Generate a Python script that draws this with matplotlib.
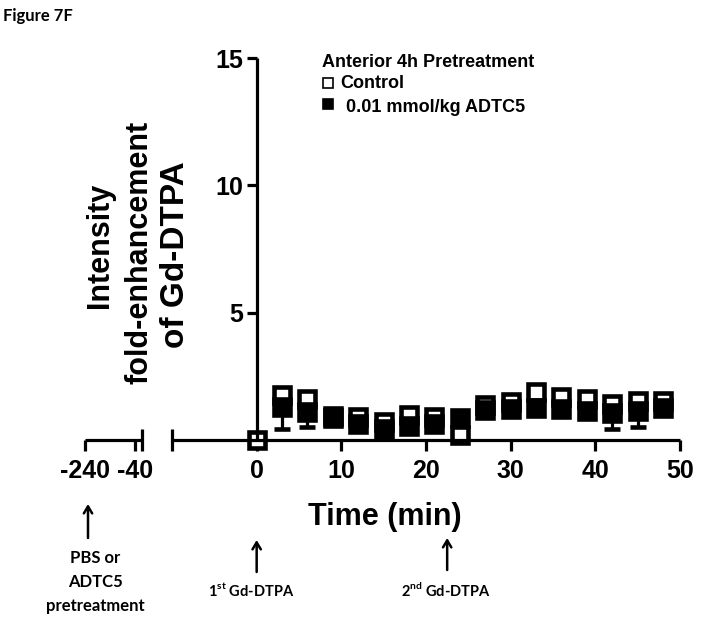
import matplotlib
matplotlib.use("Agg")
import matplotlib.pyplot as plt
import numpy as np
from matplotlib.lines import Line2D
from matplotlib.transforms import blended_transform_factory

# ---------------- data ----------------
time_min = [0, 3, 6, 9, 12, 15, 18, 21, 24, 27, 30, 33, 36, 39, 42, 45, 48]
control_mean = [0.0, 1.76, 1.60, 0.95, 0.90, 0.70, 1.00, 0.90, 0.20, 1.37,
                1.50, 1.88, 1.68, 1.62, 1.42, 1.52, 1.52]
control_sem = [0.0, 0.12, 0.10, 0.10, 0.10, 0.10, 0.10, 0.10, 0.10, 0.10,
               0.10, 0.12, 0.10, 0.10, 0.10, 0.10, 0.10]
adtc5_mean = [np.nan, 1.30, 1.10, 0.85, 0.62, 0.42, 0.55, 0.62, 0.86, 1.18,
              1.22, 1.25, 1.22, 1.15, 1.05, 1.15, 1.24]
adtc5_sem = [np.nan, 0.86, 0.60, 0.20, 0.20, 0.20, 0.20, 0.20, 0.20, 0.20,
             0.20, 0.20, 0.20, 0.20, 0.60, 0.63, 0.20]

pre_ticks = [-240, -40]
pre_labels = ["-240", "-40"]
main_xticks = [0, 10, 20, 30, 40, 50]
main_yticks = [5, 10, 15]

legend_title = "Anterior 4h Pretreatment"
series_labels = ["Control", "0.01 mmol/kg ADTC5"]
ylabel_lines = ["Intensity", "fold-enhancement", "of Gd-DTPA"]
second_dose_time = 22.5

# ---------------- figure ----------------
W, H = 702, 625
fig = plt.figure(figsize=(W / 100, H / 100), dpi=100)

ARIAL = "Liberation Sans"
CAL = "Lato"
LW = 2.3

def frac_x(px):
    return px / W

def frac_y(py):
    return 1 - py / H

ax_left, ax_right, ax_top, ax_bot = 172, 680, 58, 440
ax = fig.add_axes([frac_x(ax_left), frac_y(ax_bot),
                   frac_x(ax_right - ax_left), (ax_bot - ax_top) / H])
ax.set_xlim(-10, 50)
ax.set_ylim(0, 15)

for s in ["top", "right"]:
    ax.spines[s].set_visible(False)
ax.spines["left"].set_position(("data", 0))
for s in ["left", "bottom"]:
    ax.spines[s].set_linewidth(LW)
    ax.spines[s].set_zorder(10)
    ax.spines[s].set_capstyle("butt")

ax.set_xticks(main_xticks)
ax.set_xticklabels([str(v) for v in main_xticks])
ax.set_yticks(main_yticks)
ax.set_yticklabels([str(v) for v in main_yticks])
ax.set_xticks([-10], minor=True)
ax.tick_params(axis="x", which="minor", direction="inout", length=16, width=LW)
ax.tick_params(axis="x", which="major", direction="out", length=8, width=LW,
               pad=6, labelsize=18)
ax.tick_params(axis="y", direction="out", length=7, width=LW, pad=3,
               labelsize=18)
for lab in ax.get_xticklabels() + ax.get_yticklabels():
    lab.set_fontfamily(ARIAL)
    lab.set_fontweight("bold")

t = np.array(time_min)
cm = np.array(control_mean)
cs = np.array(control_sem)
am = np.array(adtc5_mean)
asem = np.array(adtc5_sem)

MS = 11.3
MEW = 3.3
eb1 = ax.errorbar(t, cm, yerr=[np.zeros_like(cs), cs], fmt="s", color="black",
                  mfc="white", mec="black", ms=MS, mew=MEW, elinewidth=LW,
                  capsize=6, capthick=LW, zorder=5)
eb2 = ax.errorbar(t, am, yerr=[asem, np.zeros_like(asem)], fmt="s",
                  color="black", mfc="black", mec="black", ms=MS, mew=MEW,
                  elinewidth=LW, capsize=6, capthick=LW, zorder=6)
for eb in (eb1, eb2):
    eb.lines[0].set_clip_on(False)
    for c in eb.lines[1]:
        c.set_clip_on(False)
    for c in eb.lines[2]:
        c.set_clip_on(False)

ax.set_xlabel("Time (min)", fontsize=22, fontweight="bold", family=ARIAL)
ax.xaxis.set_label_coords((385 - ax_left) / (ax_right - ax_left),
                          -(517 - ax_bot) / (ax_bot - ax_top),
                          transform=ax.transAxes)
ax.xaxis.label.set_va("center")

# legend (drawn manually, Prism style)
LFS = 13
fig.text(frac_x(322), frac_y(67), legend_title, ha="left", va="baseline",
         fontsize=LFS, fontweight="bold", family=ARIAL)
leg_rows = [(83, 88, 340, "white"), (104, 112, 346, "black")]
for (my, by, tx, fc), lab in zip(leg_rows, series_labels):
    fig.add_artist(Line2D([frac_x(327.5)], [frac_y(my)],
                          transform=fig.transFigure, marker="s", ls="none",
                          mfc=fc, mec="black", ms=6.5, mew=1.2))
    fig.text(frac_x(tx), frac_y(by), lab, ha="left", va="baseline",
             fontsize=LFS, fontweight="bold", family=ARIAL)

# y label (three centred lines)
for (cx, cy, fs), line in zip([(100, 245, 22), (139, 252, 22),
                               (176, 255, 24)], ylabel_lines):
    fig.text(frac_x(cx), frac_y(cy), line, rotation=90, ha="center",
             va="center", fontsize=fs, fontweight="bold", family=ARIAL)

# pretreatment axis segment
ax2 = fig.add_axes([frac_x(85), frac_y(ax_bot), frac_x(142 - 85),
                    (ax_bot - ax_top) / H])
ax2.set_xlim(-240, -12)
ax2.set_ylim(0, 15)
for s in ["top", "right", "left"]:
    ax2.spines[s].set_visible(False)
ax2.spines["bottom"].set_linewidth(LW)
ax2.spines["bottom"].set_capstyle("butt")
ax2.patch.set_visible(False)
ax2.set_yticks([])
ax2.set_xticks(pre_ticks)
ax2.set_xticklabels(pre_labels)
ax2.set_xticks([-12], minor=True)
ax2.tick_params(axis="x", which="minor", direction="inout", length=16, width=LW)
ax2.tick_params(axis="x", which="major", direction="out", length=8, width=LW,
                pad=6, labelsize=18)
for lab in ax2.get_xticklabels():
    lab.set_fontfamily(ARIAL)
    lab.set_fontweight("bold")

# annotations
arrow_kw = dict(arrowstyle="->,head_length=0.5,head_width=0.3", lw=1.8,
                color="black", shrinkA=0, shrinkB=0)
tr_main = blended_transform_factory(ax.transData, fig.transFigure)
tr_pre = blended_transform_factory(ax2.transData, fig.transFigure)

ax2.annotate("", xy=(-228, frac_y(504)), xycoords=tr_pre,
             xytext=(-228, frac_y(538)), textcoords=tr_pre,
             arrowprops=arrow_kw, annotation_clip=False)
fig.text(frac_x(95), frac_y(582), "PBS or\nADTC5\npretreatment",
         ha="center", va="center", multialignment="center", fontsize=12,
         fontweight="bold", family=CAL, linespacing=1.65)

ax.annotate("", xy=(0, frac_y(540)), xycoords=tr_main,
            xytext=(0, frac_y(572)), textcoords=tr_main,
            arrowprops=arrow_kw, annotation_clip=False)
fig.text(frac_x(251), frac_y(590), r"1$^{\mathregular{st}}$ Gd-DTPA",
         ha="center", va="center", fontsize=10.5, fontweight="bold",
         family=CAL)

ax.annotate("", xy=(second_dose_time, frac_y(538)), xycoords=tr_main,
            xytext=(second_dose_time, frac_y(570)), textcoords=tr_main,
            arrowprops=arrow_kw, annotation_clip=False)
fig.text(frac_x(446), frac_y(590), r"2$^{\mathregular{nd}}$ Gd-DTPA",
         ha="center", va="center", fontsize=10.5, fontweight="bold",
         family=CAL)

fig.text(frac_x(3), frac_y(16), "Figure 7F", ha="left", va="center",
         fontsize=12, fontweight="bold", family=CAL)

fig.savefig("out.png", dpi=100)
